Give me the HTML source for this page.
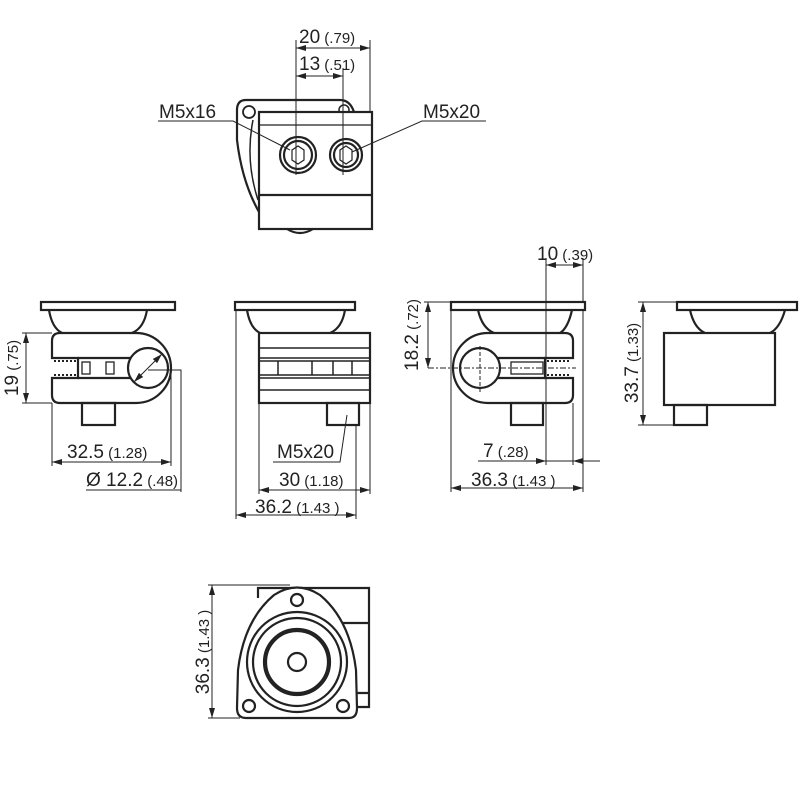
<!DOCTYPE html>
<html><head><meta charset="utf-8"><style>
html,body{margin:0;padding:0;background:#fff}
svg{display:block}
text{font-family:"Liberation Sans",sans-serif;fill:#222}
.b{font-size:19px}.s{font-size:15px}
</style></head><body>
<svg width="800" height="800" viewBox="0 0 800 800" xmlns="http://www.w3.org/2000/svg">
<defs>
<marker id="a" viewBox="0 0 10 6" refX="10" refY="3" markerWidth="10" markerHeight="6" orient="auto-start-reverse" markerUnits="userSpaceOnUse"><path d="M0,0 L10,3 L0,6z" fill="#222"/></marker>
</defs>
<g fill="none" stroke="#222" stroke-width="1">
<!-- TOP VIEW -->
<g stroke-width="2.2">
<path d="M246,100 L340,100 Q350,100 354,112"/>
<path d="M246,100 Q237,100 237,110 L237,140 Q242,182 259,212"/>
<circle cx="249" cy="112" r="6" stroke-width="1.8"/>
<circle cx="344" cy="110" r="5" stroke-width="1.5"/>
<rect x="259" y="112" width="113" height="117" fill="#fff"/>
<line x1="259" y1="195" x2="372" y2="195"/>
<path d="M287,229 Q300,237 313,229"/>
<circle cx="298" cy="155" r="18"/>
<circle cx="298" cy="155" r="14"/>
<circle cx="346" cy="155" r="16"/>
<circle cx="346" cy="155" r="12"/>
</g>
<line x1="259" y1="125" x2="372" y2="125" stroke-width="1.2"/>
<path d="M253,120 Q245,160 258,200" stroke-width="1.5"/>
<polygon points="292,150 298,146 304,150 304,160 298,164 292,160" stroke-width="1.2"/>
<polygon points="340,150 346,146 352,150 352,160 346,164 340,160" stroke-width="1.2"/>
<line x1="296" y1="40" x2="296" y2="175"/>
<line x1="370" y1="40" x2="370" y2="112"/>
<line x1="343" y1="68" x2="343" y2="175"/>
<line x1="296" y1="48" x2="370" y2="48" marker-start="url(#a)" marker-end="url(#a)"/>
<line x1="296" y1="76" x2="343" y2="76" marker-start="url(#a)" marker-end="url(#a)"/>
<polyline points="158,121 233,121 290,150"/>
<polyline points="486,121 422,121 352,152"/>

<!-- VIEW 1 -->
<g stroke-width="2.2">
<rect x="41" y="302" width="134" height="8"/>
<path d="M49,310 Q52,328 62,333 M147,310 Q144,328 132,333"/>
<path d="M60,333 L136,333 A35,35 0 0 1 136,403 L60,403 Q52,403 52,395 L52,378 L78,378 L78,358 L52,358 L52,341 Q52,333 60,333Z"/>
<path d="M78,358 L130,358 M78,378 L130,378"/>
<circle cx="148" cy="368" r="20" fill="#fff"/>
<rect x="82" y="403" width="33" height="22"/>
</g>
<path d="M54,361 h22 M54,375 h22" stroke-dasharray="2,2" stroke-width="2"/>
<rect x="82" y="362" width="8" height="12" stroke-width="1.3"/>
<rect x="106" y="362" width="8" height="12" stroke-width="1.3"/>
<line x1="22" y1="333" x2="52" y2="333"/><line x1="22" y1="403" x2="52" y2="403"/>
<line x1="26" y1="333" x2="26" y2="403" marker-start="url(#a)" marker-end="url(#a)"/>
<line x1="52" y1="403" x2="52" y2="466"/><line x1="171" y1="368" x2="171" y2="466"/>
<line x1="52" y1="462" x2="171" y2="462" marker-start="url(#a)" marker-end="url(#a)"/>
<line x1="134" y1="382" x2="162" y2="354" marker-start="url(#a)" marker-end="url(#a)"/>
<polyline points="148,370 181,370 181,492"/>
<line x1="86" y1="490" x2="181" y2="490"/>

<!-- VIEW 2 -->
<g stroke-width="2.2">
<rect x="235" y="302" width="120" height="8"/>
<path d="M247,310 Q250,328 260,333 M345,310 Q342,328 330,333"/>
<rect x="259" y="333" width="111" height="70"/>
<rect x="327" y="403" width="32" height="22"/>
</g>
<g stroke-width="1.5">
<line x1="259" y1="348" x2="370" y2="348"/><line x1="259" y1="358" x2="370" y2="358"/>
<line x1="259" y1="361" x2="370" y2="361"/><line x1="259" y1="375" x2="370" y2="375"/>
<line x1="259" y1="378" x2="370" y2="378"/><line x1="259" y1="390" x2="370" y2="390"/>
<line x1="278" y1="361" x2="278" y2="375"/><line x1="312" y1="361" x2="312" y2="375"/>
<line x1="333" y1="361" x2="333" y2="375"/><line x1="352" y1="361" x2="352" y2="375"/>
</g>
<polyline points="273,462 340,462 347,415"/>
<line x1="259" y1="403" x2="259" y2="494"/><line x1="370" y1="403" x2="370" y2="494"/>
<line x1="259" y1="490" x2="370" y2="490" marker-start="url(#a)" marker-end="url(#a)"/>
<line x1="236" y1="310" x2="236" y2="519"/><line x1="356" y1="425" x2="356" y2="519"/>
<line x1="236" y1="515" x2="356" y2="515" marker-start="url(#a)" marker-end="url(#a)"/>

<!-- VIEW 3 -->
<g stroke-width="2.2">
<rect x="451" y="302" width="134" height="8"/>
<path d="M478,310 Q482,328 494,333 M572,310 Q568,328 560,333"/>
<path d="M488,333 L565,333 Q573,333 573,341 L573,358 L545,358 L545,378 L573,378 L573,395 Q573,403 565,403 L488,403 A35,35 0 0 1 488,333Z"/>
<path d="M498,358 L545,358 M498,378 L545,378"/>
<circle cx="480" cy="368" r="20" fill="#fff"/>
<rect x="511" y="403" width="32" height="22"/>
</g>
<path d="M547,361 h24 M547,375 h24" stroke-dasharray="2,2" stroke-width="2"/>
<rect x="511" y="362" width="32" height="12" stroke-width="1.3"/>
<line x1="428" y1="368" x2="576" y2="368" stroke-dasharray="6,2,2,2"/>
<line x1="480" y1="346" x2="480" y2="392" stroke-dasharray="4,2"/>
<line x1="546" y1="258" x2="546" y2="465"/><line x1="583" y1="258" x2="583" y2="302"/>
<line x1="583" y1="310" x2="583" y2="492"/>
<line x1="546" y1="265" x2="583" y2="265" marker-start="url(#a)" marker-end="url(#a)"/>
<line x1="424" y1="302" x2="451" y2="302"/>
<line x1="428" y1="302" x2="428" y2="368" marker-start="url(#a)" marker-end="url(#a)"/>
<line x1="573" y1="403" x2="573" y2="465"/>
<line x1="478" y1="461" x2="546" y2="461" marker-end="url(#a)"/>
<line x1="600" y1="461" x2="573" y2="461" marker-end="url(#a)"/>
<line x1="546" y1="461" x2="573" y2="461"/>
<line x1="451" y1="310" x2="451" y2="492"/>
<line x1="451" y1="488" x2="583" y2="488" marker-start="url(#a)" marker-end="url(#a)"/>

<!-- VIEW 4 -->
<g stroke-width="2.2">
<rect x="677" y="302" width="120" height="8"/>
<path d="M690,310 Q694,328 705,333 M785,310 Q780,328 770,333"/>
<rect x="664" y="333" width="111" height="72"/>
<rect x="674" y="405" width="33" height="20"/>
</g>
<line x1="638" y1="302" x2="677" y2="302"/><line x1="638" y1="425" x2="674" y2="425"/>
<line x1="643" y1="302" x2="643" y2="425" marker-start="url(#a)" marker-end="url(#a)"/>

<!-- VIEW 5 -->
<g stroke-width="2.2">
<path d="M258,598 L258,588 L369,588 L369,707 L357,707"/>
<path d="M338,623 L369,623 M350,693 L369,693"/>
<path d="M246,718 L349,718 Q357,718 357,708 L356,670 Q350,620 320,595 Q297,580 274,595 Q244,620 238,670 L237,708 Q237,718 246,718Z" fill="#fff"/>
<circle cx="297" cy="600" r="6"/>
<circle cx="249" cy="706" r="6"/>
<circle cx="343" cy="706" r="6"/>
<circle cx="297" cy="662" r="50"/>
<circle cx="297" cy="662" r="44"/>
<circle cx="297" cy="662" r="33"/>
<circle cx="297" cy="662" r="31"/>
<circle cx="297" cy="662" r="9"/>
</g>
<line x1="208" y1="585" x2="290" y2="585"/><line x1="208" y1="718" x2="240" y2="718"/>
<line x1="212" y1="585" x2="212" y2="718" marker-start="url(#a)" marker-end="url(#a)"/>
</g>

<!-- TEXT -->
<text x="299" y="43"><tspan class="b">20</tspan><tspan class="s"> (.79)</tspan></text>
<text x="299" y="70"><tspan class="b">13</tspan><tspan class="s"> (.51)</tspan></text>
<text x="159" y="118" class="b">M5x16</text>
<text x="423" y="118" class="b">M5x20</text>
<text x="67" y="458"><tspan class="b">32.5</tspan><tspan class="s"> (1.28)</tspan></text>
<text x="86" y="486"><tspan class="b">Ø 12.2</tspan><tspan class="s"> (.48)</tspan></text>
<text x="277" y="458" class="b">M5x20</text>
<text x="279" y="486"><tspan class="b">30</tspan><tspan class="s"> (1.18)</tspan></text>
<text x="255" y="513"><tspan class="b">36.2</tspan><tspan class="s"> (1.43 )</tspan></text>
<text x="537" y="260"><tspan class="b">10</tspan><tspan class="s"> (.39)</tspan></text>
<text x="483" y="457"><tspan class="b">7</tspan><tspan class="s"> (.28)</tspan></text>
<text x="471" y="486"><tspan class="b">36.3</tspan><tspan class="s"> (1.43 )</tspan></text>
<text transform="translate(18,368) rotate(-90)" text-anchor="middle"><tspan class="b">19</tspan><tspan class="s"> (.75)</tspan></text>
<text transform="translate(418,335) rotate(-90)" text-anchor="middle"><tspan class="b">18.2</tspan><tspan class="s"> (.72)</tspan></text>
<text transform="translate(638,363) rotate(-90)" text-anchor="middle"><tspan class="b">33.7</tspan><tspan class="s"> (1.33)</tspan></text>
<text transform="translate(209,652) rotate(-90)" text-anchor="middle"><tspan class="b">36.3</tspan><tspan class="s"> (1.43 )</tspan></text>
</svg>
</body></html>
